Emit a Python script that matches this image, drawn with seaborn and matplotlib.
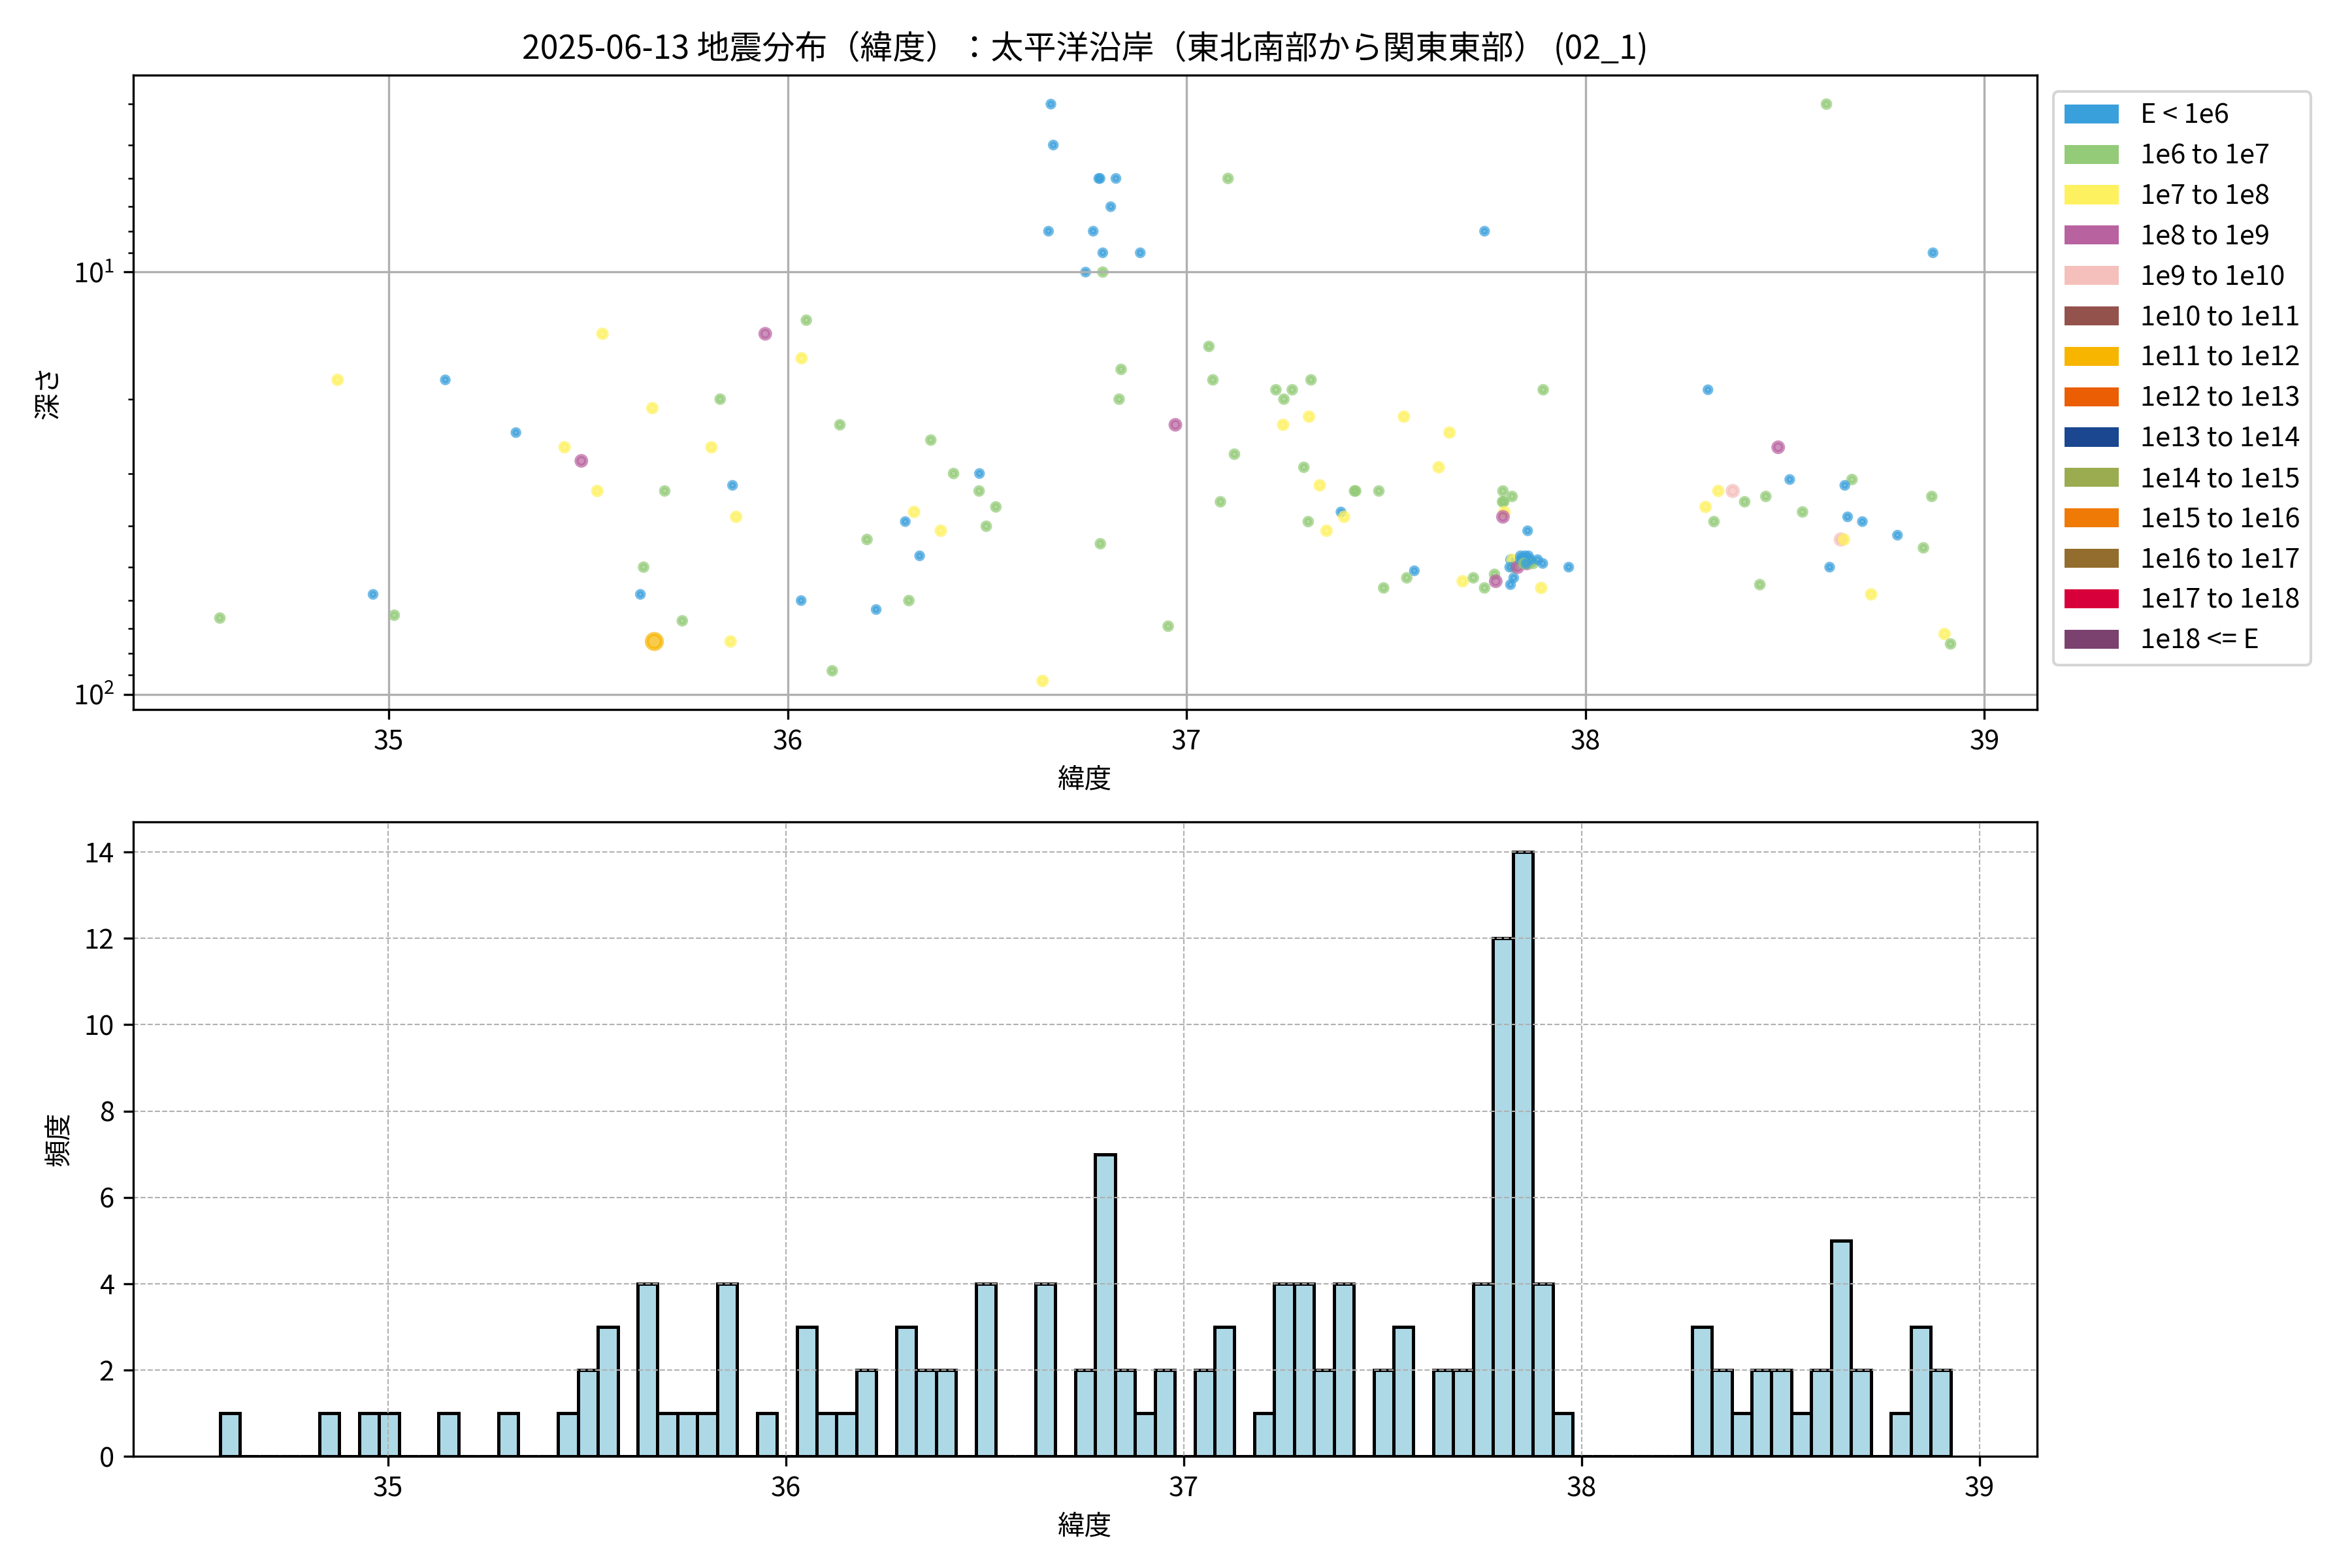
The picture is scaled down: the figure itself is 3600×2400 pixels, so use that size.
"""
Earthquake distribution by latitude: depth scatter (log, inverted) + latitude histogram.
"""

import numpy as np
import pandas as pd
import matplotlib
matplotlib.use("Agg")
import matplotlib.pyplot as plt
from matplotlib.patches import Patch
import seaborn as sns

TITLE = "2025-06-13 地震分布（緯度）：太平洋沿岸（東北南部から関東東部） (02_1)"

ENERGY_LABELS = [
    "E < 1e6", "1e6 to 1e7", "1e7 to 1e8", "1e8 to 1e9", "1e9 to 1e10",
    "1e10 to 1e11", "1e11 to 1e12", "1e12 to 1e13", "1e13 to 1e14",
    "1e14 to 1e15", "1e15 to 1e16", "1e16 to 1e17", "1e17 to 1e18", "1e18 <= E",
]
ENERGY_COLORS = [
    "#3aa0dc", "#93cb78", "#fef160", "#b962a0", "#f5c0bc",
    "#94524c", "#f7b500", "#eb5e04", "#1a478f",
    "#9aac4f", "#ef7a06", "#936d2d", "#d8003a", "#7b416f",
]

# latitude (deg)
lat = [
    34.577, 34.872, 34.961, 35.014, 35.142, 35.319, 35.441, 35.483, 35.523, 35.536, 35.550, 35.560,
    35.631, 35.639, 35.666, 35.661, 35.692, 35.736, 35.809, 35.831, 35.862, 35.871, 35.857, 35.944,
    36.047, 36.035, 36.034, 36.112, 36.131, 36.199, 36.222, 36.304, 36.295, 36.317, 36.331, 36.359,
    36.384, 36.416, 36.481, 36.480, 36.522, 36.498, 36.639, 36.660, 36.666, 36.654, 36.766, 36.747,
    36.780, 36.783, 36.823, 36.810, 36.790, 36.790, 36.784, 36.836, 36.831, 36.884, 36.954, 36.972,
    37.056, 37.066, 37.104, 37.120, 37.085, 37.224, 37.265, 37.244, 37.242, 37.250,
    37.312, 37.307, 37.294, 37.305, 37.334, 37.351, 37.421, 37.424, 37.387, 37.395, 37.482, 37.494,
    37.545, 37.571, 37.552, 37.659, 37.632, 37.692, 37.719, 37.747, 37.747, 37.772, 37.775,
    37.793, 37.816, 37.792, 37.795, 37.797, 37.793, 37.812, 37.817, 37.820, 37.810, 37.820, 37.812,
    37.830, 37.855, 37.837, 37.857, 37.837, 37.853, 37.858, 37.869, 37.842, 37.848, 37.850, 37.862,
    37.845, 37.851,
    37.893, 37.880, 37.889, 37.894, 37.958,
    38.307, 38.301, 38.322, 38.333, 38.369, 38.399, 38.452, 38.437, 38.483, 38.512, 38.544, 38.604,
    38.612,
    38.668, 38.650, 38.657, 38.640, 38.648, 38.694, 38.716, 38.782, 38.868, 38.847, 38.871, 38.900,
    38.915,
]

# depth (km); nan = depth not available (not drawn in the scatter)
nan = np.nan
depth = [
    66, 18, 58, 65, 18, 24, 26, 28, 33, 14, nan, nan,
    58, 50, 75, 21, 33, 67, 26, 20, 32, 38, 75, 14,
    13, 16, 60, 88, 23, 43, 63, 60, 39, 37, 47, 25,
    41, 30, 30, 33, 36, 40, 93, 4, 5, 8, 8, 10,
    6, 6, 6, 7, 9, 10, 44, 17, 20, 9, 69, 23,
    15, 18, 6, 27, 35, 19, 19, 20, 23, nan,
    18, 22, 29, 39, 32, 41, 33, 33, 37, 38, 33, 56,
    22, 51, 53, 24, 29, 54, 53, 8, 56, 52, 54,
    33, 34, 35, 35, 37, 38, 48, 48, 50, 50, 53, 55,
    50, 41, 47, 47, 48, 49, 49, 49, 48, 47, 49, 48,
    49, 49,
    49, 48, 56, 19, 50,
    19, 36, 39, 33, 33, 35, 34, 55, 26, 31, 37, 4,
    50,
    31, 32, 38, 43, 43, 39, 58, 42, 34, 45, 9, 72,
    76,
]

# energy class index (into ENERGY_LABELS)
energy = [
    1, 2, 0, 1, 0, 0, 2, 3, 2, 2, 0, 0,
    0, 1, 6, 2, 1, 1, 2, 1, 0, 2, 2, 3,
    1, 2, 0, 1, 1, 1, 0, 1, 0, 2, 0, 1,
    2, 1, 0, 1, 1, 1, 2, 0, 0, 0, 0, 0,
    0, 0, 0, 0, 0, 1, 1, 1, 1, 0, 1, 3,
    1, 1, 1, 1, 1, 1, 1, 1, 2, 0,
    1, 2, 1, 1, 2, 2, 1, 1, 0, 2, 1, 1,
    2, 0, 1, 2, 2, 2, 1, 0, 1, 1, 3,
    1, 1, 1, 1, 2, 3, 0, 2, 1, 0, 0, 0,
    3, 0, 0, 0, 0, 3, 1, 1, 0, 0, 1, 0,
    1, 0,
    0, 0, 2, 1, 0,
    0, 2, 1, 2, 4, 1, 1, 1, 3, 0, 1, 1,
    0,
    1, 0, 0, 4, 2, 0, 2, 0, 1, 1, 0, 2,
    1,
]

# marker area (pt^2) per energy class
CLASS_SIZES = [6, 7.5, 9.5, 12.5, 14, 20, 30, 38, 46, 54, 62, 70, 78, 86]
BIN_WIDTH = 0.05

plt.rcParams["font.family"] = ["Noto Sans CJK JP", "DejaVu Sans"]
plt.rcParams["axes.unicode_minus"] = False

df = pd.DataFrame({
    "lat": lat,
    "depth": depth,
    "energy": [ENERGY_LABELS[i] for i in energy],
})

palette = dict(zip(ENERGY_LABELS, ENERGY_COLORS))
sizes = dict(zip(ENERGY_LABELS, CLASS_SIZES))

fig, (ax1, ax2) = plt.subplots(2, 1, figsize=(12, 8))
fig.subplots_adjust(left=0.0567, right=0.8661, top=0.952, bottom=0.0712, hspace=0.1767)

# --- top: depth vs latitude
sns.scatterplot(data=df, x="lat", y="depth", hue="energy", size="energy",
                palette=palette, sizes=sizes, alpha=0.7,
                edgecolor="face", linewidth=1.5, legend=False, ax=ax1)
ax1.set_yscale("log")
ax1.invert_yaxis()
ax1.grid(True)
ax1.set_title(TITLE, fontsize=12)
ax1.set_xlabel("緯度")
ax1.set_ylabel("深さ")

handles = [Patch(facecolor=c, label=l) for l, c in zip(ENERGY_LABELS, ENERGY_COLORS)]
ax1.legend(handles=handles, loc="upper left", bbox_to_anchor=(1.0, 1.0),
           borderaxespad=0.6)

# --- bottom: latitude histogram (fixed-width bins starting at the minimum)
edges = np.arange(df["lat"].min(), df["lat"].max() + BIN_WIDTH, BIN_WIDTH)
sns.histplot(x=df["lat"], bins=edges, color="lightblue", edgecolor="black",
             linewidth=1.2, alpha=1, ax=ax2)
ax2.grid(True, linestyle="--", linewidth=0.5)
ax2.set_xlabel("緯度")
ax2.set_ylabel("頻度")

fig.savefig("out.png", dpi=300)
plt.close(fig)
